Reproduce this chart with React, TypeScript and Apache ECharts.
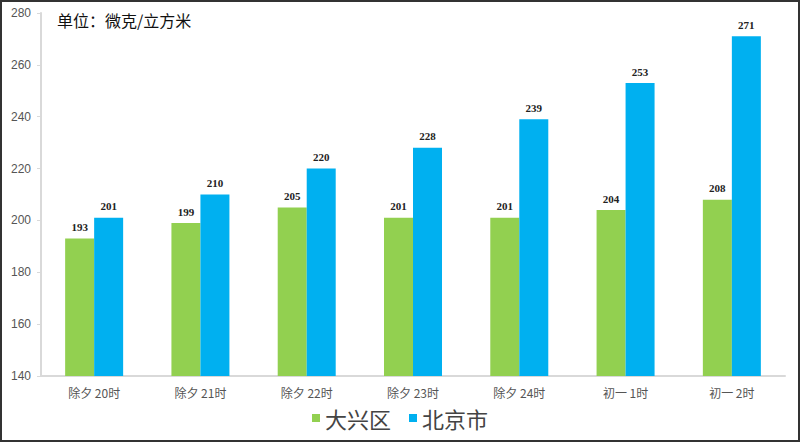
import React, { useEffect, useRef } from "react";
import * as echarts from "echarts";

const categories = ["除夕 20时", "除夕 21时", "除夕 22时", "除夕 23时", "除夕 24时", "初一 1时", "初一 2时"];
const daxing = [193, 199, 205, 201, 201, 204, 208];
const beijing = [201, 210, 220, 228, 239, 253, 271];
const seriesNames = ["大兴区", "北京市"];
const unitText = "单位：微克/立方米";

export default function App() {
  const ref = useRef<HTMLDivElement>(null);
  useEffect(() => {
    if (!ref.current) return;
    const chart = echarts.init(ref.current, undefined, { renderer: "svg" });
    const labelStyle = {
      show: true,
      position: "top" as const,
      fontFamily: "Liberation Serif, serif",
      fontWeight: "bold" as const,
      fontSize: 11,
      color: "#222",
      distance: 6,
    };
    chart.setOption({
      animation: false,
      backgroundColor: "#fff",
      grid: { left: 39, right: 13, top: 11, bottom: 64 },
      legend: {
        bottom: 6,
        left: "center",
        itemWidth: 8,
        itemHeight: 8,
        itemGap: 18,
        icon: "rect",
        textStyle: { fontSize: 22, color: "#444", fontFamily: "Noto Sans CJK SC" },
        data: seriesNames,
      },
      graphic: [
        {
          type: "text",
          left: 55,
          top: 10,
          style: { text: unitText, fontSize: 16, fill: "#111", fontFamily: "Noto Sans CJK SC" },
        },
      ],
      xAxis: {
        type: "category",
        data: categories,
        axisLine: { lineStyle: { color: "#d9d9d9", width: 2 } },
        axisTick: { show: false },
        axisLabel: { color: "#555", fontSize: 12, margin: 10, fontFamily: "Noto Sans CJK SC" },
      },
      yAxis: {
        type: "value",
        min: 140,
        max: 280,
        interval: 20,
        splitLine: { show: false },
        axisLine: { show: true, lineStyle: { color: "#d9d9d9", width: 2 } },
        axisTick: { show: true, length: 4, lineStyle: { color: "#d9d9d9" } },
        axisLabel: { color: "#555", fontSize: 12, margin: 10 },
      },
      series: [
        {
          name: seriesNames[0],
          type: "bar",
          data: daxing,
          barWidth: 29,
          barGap: "0%",
          itemStyle: { color: "#92D050" },
          label: labelStyle,
        },
        {
          name: seriesNames[1],
          type: "bar",
          data: beijing,
          barWidth: 29,
          barGap: "0%",
          itemStyle: { color: "#00B0F0" },
          label: labelStyle,
        },
      ],
    });
    return () => chart.dispose();
  }, []);
  return (
    <div
      style={{
        position: "fixed",
        left: 0,
        top: 0,
        width: 800,
        height: 442,
        boxSizing: "border-box",
        border: "2px solid #333",
        background: "#fff",
      }}
    >
      <div ref={ref} style={{ width: 796, height: 438 }} />
    </div>
  );
}
